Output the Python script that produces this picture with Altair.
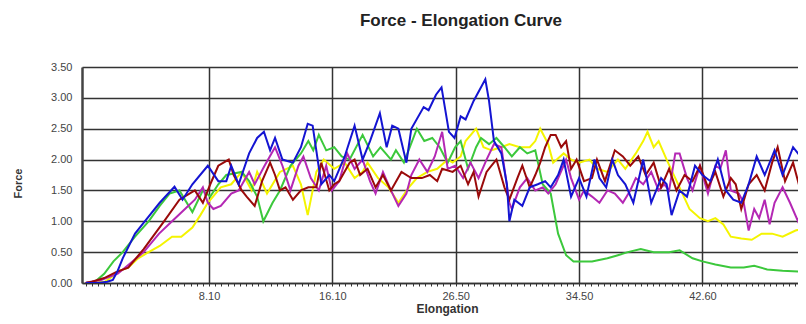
import altair as alt
import pandas as pd

# ---------------- data ----------------
series_names = ["Sample 1", "Sample 2", "Sample 3", "Sample 4", "Sample 5"]
series_colors = ["#f4f400", "#3cc83c", "#b428b4", "#9a0a0a", "#1414d2"]

# Sample 1 (yellow)
s1_x = [0, 3.1, 4.5, 5.5, 6.9, 8.5, 10.2, 12, 14.0, 15.5, 17.3, 18.6, 19.8, 21.9, 23.6, 25.3, 26.9, 27.8, 29.4, 31.5,
        33.6, 34.9, 36.0, 37.4, 38.6, 40.3, 42.0, 43.6, 44.9, 45.7, 47.4, 49.1, 50.7, 52.4, 53.7, 55.4, 57.0, 58.7, 59.5,
        60.8, 61.6, 63.3, 64.5, 65.8, 67.4, 68.7, 70.4, 72.0, 72.9, 73.7, 75.0, 75.8, 77.5, 78.7, 80.0, 81.7, 82.9, 84.6,
        86.3, 87.5, 89.2, 90.4, 91.1, 92.1, 92.9, 94.2, 96.3, 97.9, 99.6, 100.9, 102.1, 103.4, 104.6, 106.3, 108.0, 109.6,
        111.3, 113.0, 115.1, 117]
s1_y = [0, 0.02, 0.12, 0.2, 0.25, 0.4, 0.5, 0.6, 0.75, 0.75, 0.9, 1.1, 1.3, 1.55, 1.6, 1.8, 1.5, 1.8, 1.45, 1.8,
        1.9, 1.6, 1.1, 1.8, 2.0, 1.85, 1.95, 1.7, 1.8, 1.95, 1.7, 1.55, 1.3, 1.55, 1.7, 1.8, 1.85, 2.0, 1.95,
        2.05, 2.3, 2.5, 2.2, 2.15, 2.2, 2.25, 2.2, 2.2, 2.3, 2.5, 2.25, 1.95, 2.1, 2.0, 1.95, 2.0, 1.85, 1.8,
        2.0, 1.85, 2.1, 2.3, 2.45, 2.2, 2.3, 2.0, 1.55, 1.2, 1.05, 1.0, 1.05, 0.95, 0.75, 0.72, 0.7, 0.8,
        0.8, 0.75, 0.85, 0.9]

# Sample 2 (green)
s2_x = [0, 1.5, 3, 4.5, 6.0, 8, 10.2, 12, 13.6, 15.2, 17.3, 19.0, 20.2, 21.5, 22.8, 25.3, 26.5, 27.8, 28.8, 30.3,
        31.5, 33.2, 34.9, 36.1, 36.9, 37.8, 39.0, 40.3, 41.5, 42.8, 44.9, 46.6, 47.8, 49.5, 50.3, 51.6, 53.7, 54.9, 56.2,
        57.4, 58.7, 59.9, 60.8, 62.0, 63.3, 64.1, 65.4, 66.6, 67.9, 69.1, 70.4, 71.6, 72.9, 74.1, 75.4, 76.6, 77.9, 79.1,
        82.1, 84.6, 86.3, 87.9, 90.0, 92.1, 94.6, 96.3, 98.4, 100.0, 102.1, 104.6, 106.7, 108.4, 110.5, 113.0, 117]
s2_y = [0, 0.02, 0.15, 0.35, 0.5, 0.75, 1.0, 1.25, 1.45, 1.5, 1.15, 1.5, 1.4, 1.6, 1.75, 1.8, 1.65, 1.4, 1.0, 1.3,
        1.5, 1.9, 2.1, 2.3, 2.15, 2.4, 2.15, 2.2, 2.05, 2.0, 2.4, 2.05, 2.2, 2.0, 2.15, 1.95, 2.5, 2.3, 2.35,
        2.2, 1.95, 2.2, 2.3, 1.85, 2.2, 2.35, 2.25, 2.35, 2.2, 2.05, 2.2, 2.1, 2.15, 1.6, 1.45, 0.8, 0.45, 0.35,
        0.35, 0.4, 0.45, 0.5, 0.55, 0.5, 0.5, 0.53, 0.4, 0.35, 0.3, 0.25, 0.25, 0.28, 0.22, 0.2, 0.18]

# Sample 3 (magenta)
s3_x = [0, 0.2, 2.5, 5.2, 7, 9.4, 11.9, 14.0, 16.1, 17.7, 19.0, 19.8, 20.7, 21.9, 23.6, 24.8, 26.5, 27.4, 29.0, 30.7,
        31.9, 33.2, 34.5, 35.3, 36.5, 37.8, 39.0, 39.9, 41.1, 42.4, 43.6, 44.9, 46.1, 47.0, 48.2, 49.5, 50.7, 52.0, 52.8,
        54.1, 55.4, 56.6, 57.8, 58.7, 59.9, 61.2, 62.4, 63.7, 65.0, 66.2, 67.4, 68.7, 69.1, 70.4, 71.6, 72.9, 74.1, 75.0,
        76.2, 77.9, 78.7, 80.0, 80.8, 82.1, 83.3, 84.6, 85.8, 87.1, 88.3, 89.2, 90.4, 91.7, 92.9, 93.8, 94.6, 95.6, 96.3,
        97.5, 98.4, 99.6, 100.9, 102.1, 102.9, 103.8, 104.6, 105.9, 106.7, 107.5, 108.4, 109.2, 110.1, 110.9, 111.7, 113.0,
        114.2, 115.5, 117]
s3_y = [0, 0.01, 0.05, 0.15, 0.3, 0.5, 0.8, 1.0, 1.2, 1.35, 1.55, 1.3, 1.2, 1.25, 1.45, 1.5, 1.8, 1.6, 1.9, 2.2,
        1.9, 1.5, 1.9, 2.05, 1.7, 1.5, 1.9, 1.5, 1.65, 2.1, 1.85, 2.0, 1.65, 1.45, 1.8, 1.5, 1.25, 1.45, 1.75,
        2.0, 1.8, 2.05, 2.45, 1.85, 1.9, 1.7, 1.95, 1.7, 2.0, 2.25, 2.2, 1.3, 1.2, 1.55, 1.7, 1.5, 1.55, 1.45,
        1.6, 2.0, 1.7, 1.35, 1.5, 1.4, 1.3, 1.5, 1.45, 1.3, 1.5, 1.7, 1.6, 1.8, 1.5, 1.6, 1.5, 2.1, 2.1,
        1.7, 1.5, 1.9, 1.45, 1.9, 1.85, 2.15, 1.5, 1.45, 1.3, 0.85, 1.2, 1.05, 1.35, 0.95, 1.3, 1.55,
        1.3, 1.0, 1.5]

# Sample 4 (dark red)
s4_x = [0, 1.0, 3, 5, 6.9, 9.4, 12.7, 15.2, 17.7, 19.0, 20.2, 21.5, 23.2, 24.0, 25.3, 26.1, 27.4, 28.6, 29.9, 30.7,
        31.5, 32.4, 33.6, 34.9, 36.1, 37.4, 38.2, 39.5, 40.3, 41.1, 42.8, 43.6, 44.5, 45.7, 47.0, 48.2, 49.5, 51.2, 52.8,
        54.5, 55.8, 57.0, 57.8, 59.5, 60.8, 62.0, 62.9, 63.7, 65.0, 65.8, 66.6, 67.9, 68.7, 70.0, 70.8, 72.0, 72.9, 73.7,
        74.5, 75.4, 76.2, 77.1, 77.9, 78.7, 79.6, 80.8, 82.1, 82.9, 84.2, 85.8, 87.1, 88.3, 89.6, 90.8, 92.1, 93.3, 94.6,
        95.8, 97.1, 98.4, 99.6, 100.9, 102.1, 103.4, 104.6, 105.4, 106.3, 107.5, 108.8, 110.1, 111.3, 112.2, 113.4, 114.7,
        115.9, 117]
s4_y = [0, 0.02, 0.08, 0.18, 0.25, 0.55, 1.0, 1.35, 1.5, 1.3, 1.6, 1.9, 2.0, 1.75, 1.5, 1.4, 1.25, 1.65, 1.95, 1.75,
        1.5, 1.55, 1.35, 1.5, 1.55, 1.55, 1.95, 1.5, 1.6, 1.65, 1.95, 2.0, 1.75, 1.85, 1.55, 1.75, 1.5, 1.8, 1.7,
        1.7, 1.75, 1.65, 1.85, 1.8, 1.9, 1.6, 1.8, 1.4, 1.8, 1.9, 2.0, 1.55, 1.35, 1.7, 1.9, 1.55, 1.75, 1.95,
        2.2, 2.4, 2.4, 2.2, 2.3, 1.85, 2.0, 1.65, 1.7, 2.0, 1.65, 2.15, 2.05, 1.9, 2.05, 1.75, 1.95, 1.55, 1.85,
        1.5, 1.75, 1.65, 1.9, 1.55, 1.8, 1.4, 1.7, 1.6, 1.2, 1.6, 1.75, 1.5, 1.95, 2.2, 1.65, 1.95,
        1.5, 1.85]

# Sample 5 (blue)
s5_x = [0, 2, 3.5, 4.4, 5.2, 6, 8, 10, 12, 14.4, 15.7, 17.3, 19.8, 21.5, 22.8, 23.6, 24.8, 26.5, 27.8, 28.9,
        29.9, 30.7, 31.9, 33.6, 34.9, 36.0, 36.8, 38.2, 39.5, 40.3, 42.0, 43.6, 44.9, 46.1, 47.7, 48.8, 49.7, 50.7, 52.0,
        52.8, 54.8, 55.6, 56.8, 57.7, 58.9, 59.8, 60.8, 61.6, 62.9, 64.8, 65.4, 66.2, 67.4, 68.3, 68.7, 69.5, 70.8, 72.0,
        73.3, 74.5, 75.4, 76.6, 77.5, 78.7, 80.0, 81.2, 82.5, 83.3, 84.4, 85.4, 86.3, 87.5, 88.8, 90.4, 91.7, 93.3, 94.2,
        95.0, 96.3, 97.5, 98.8, 100.0, 101.3, 102.5, 103.8, 105.0, 106.3, 107.5, 108.8, 110.1, 111.7, 113.0, 114.7, 115.9,
        117]
s5_y = [0, 0, 0.02, 0.05, 0.2, 0.4, 0.8, 1.05, 1.3, 1.56, 1.35, 1.6, 1.9, 1.65, 1.65, 1.9, 1.6, 2.1, 2.35, 2.45,
        2.15, 2.35, 2.0, 1.95, 2.2, 2.58, 2.55, 1.6, 1.75, 1.65, 2.05, 2.55, 2.0, 2.3, 2.75, 2.2, 2.55, 2.5, 1.95,
        2.5, 2.85, 2.8, 3.05, 3.17, 2.45, 2.35, 2.7, 2.65, 2.95, 3.3, 2.95, 2.3, 2.1, 1.6, 1.0, 1.35, 1.25, 1.55,
        1.6, 1.65, 1.55, 1.75, 2.0, 1.4, 1.7, 1.4, 2.0, 1.7, 1.55, 2.0, 1.75, 1.6, 1.3, 2.0, 1.3, 1.7, 1.6,
        1.1, 1.5, 1.4, 1.9, 1.75, 1.65, 2.0, 1.5, 1.35, 1.3, 1.6, 2.05, 1.75, 2.15, 1.75, 2.2, 2.05,
        2.05]

# axes
major_ticks = [20, 40, 60, 80, 100]
tick_labels = ["8.10", "16.10", "26.50", "34.50", "42.60"]
minor_ticks = list(range(0, 116))
y_ticks = [0, 0.5, 1.0, 1.5, 2.0, 2.5, 3.0, 3.5]
x_domain = [-0.6, 115.5]
y_domain = [0, 3.5]

# ---------------- build table ----------------
xs = [s1_x, s2_x, s3_x, s4_x, s5_x]
ys = [s1_y, s2_y, s3_y, s4_y, s5_y]
rows = []
for name, xv, yv in zip(series_names, xs, ys):
    for i, (a, b) in enumerate(zip(xv, yv)):
        rows.append({"series": name, "k": a, "force": b, "order": i})
df = pd.DataFrame(rows)

maj = "[" + ",".join(str(v) for v in major_ticks) + "]"
labs = "[" + ",".join("'" + t + "'" for t in tick_labels) + "]"
label_expr = f"indexof({maj}, datum.value) >= 0 ? {labs}[indexof({maj}, datum.value)] : ''"
grid_test = f"indexof({maj}, datum.value) >= 0"

FONT = "Liberation Sans"

x_axis = alt.Axis(
    values=minor_ticks, labelExpr=label_expr, labelOverlap=False, labelFlush=False,
    grid=True, gridOpacity={"condition": {"test": grid_test, "value": 1}, "value": 0},
    gridColor="#333333", gridWidth=1.5,
    tickSize=3, tickColor="#333333", tickWidth=1,
    domainColor="#333333", domainWidth=1.5,
    labelPadding=4, labelFontSize=11, labelColor="#444444", labelFont=FONT,
    title="Elongation", titleFontSize=12, titleFontWeight="bold", titleFont=FONT,
    titleColor="#333333", titleX=365, titleY=29, titleBaseline="alphabetic", titleAlign="center",
)
y_axis = alt.Axis(
    values=y_ticks, format=".2f", grid=True, gridColor="#333333", gridWidth=1.5,
    ticks=False, domainColor="#444444", domainWidth=2.5,
    labelPadding=10, labelFontSize=11, labelColor="#444444", labelFont=FONT,
    title="Force", titleFontSize=11, titleFontWeight="bold", titleFont=FONT, titleColor="#333333",
    titleAngle=270, titleX=-64, titleY=116, titleAlign="center", titleBaseline="middle",
)

chart = alt.Chart(df).mark_line(strokeWidth=2, clip=True).encode(
    x=alt.X("k:Q", scale=alt.Scale(domain=x_domain, nice=False, zero=False), axis=x_axis),
    y=alt.Y("force:Q", scale=alt.Scale(domain=y_domain, nice=False), axis=y_axis),
    color=alt.Color("series:N", scale=alt.Scale(domain=series_names, range=series_colors), legend=None),
    order="order:Q",
).properties(
    width=716, height=216,
    autosize=alt.AutoSizeParams(type="none"),
    padding={"left": 74, "top": 59, "right": 0, "bottom": 33},
    title=alt.TitleParams("Force - Elongation Curve", fontSize=17, fontWeight="bold", font=FONT,
                          color="#222222", anchor="middle", dx=21, offset=31),
).configure_view(stroke=None).configure(background="white")

chart.save("out.html", embed_options={"renderer": "svg", "actions": False})
